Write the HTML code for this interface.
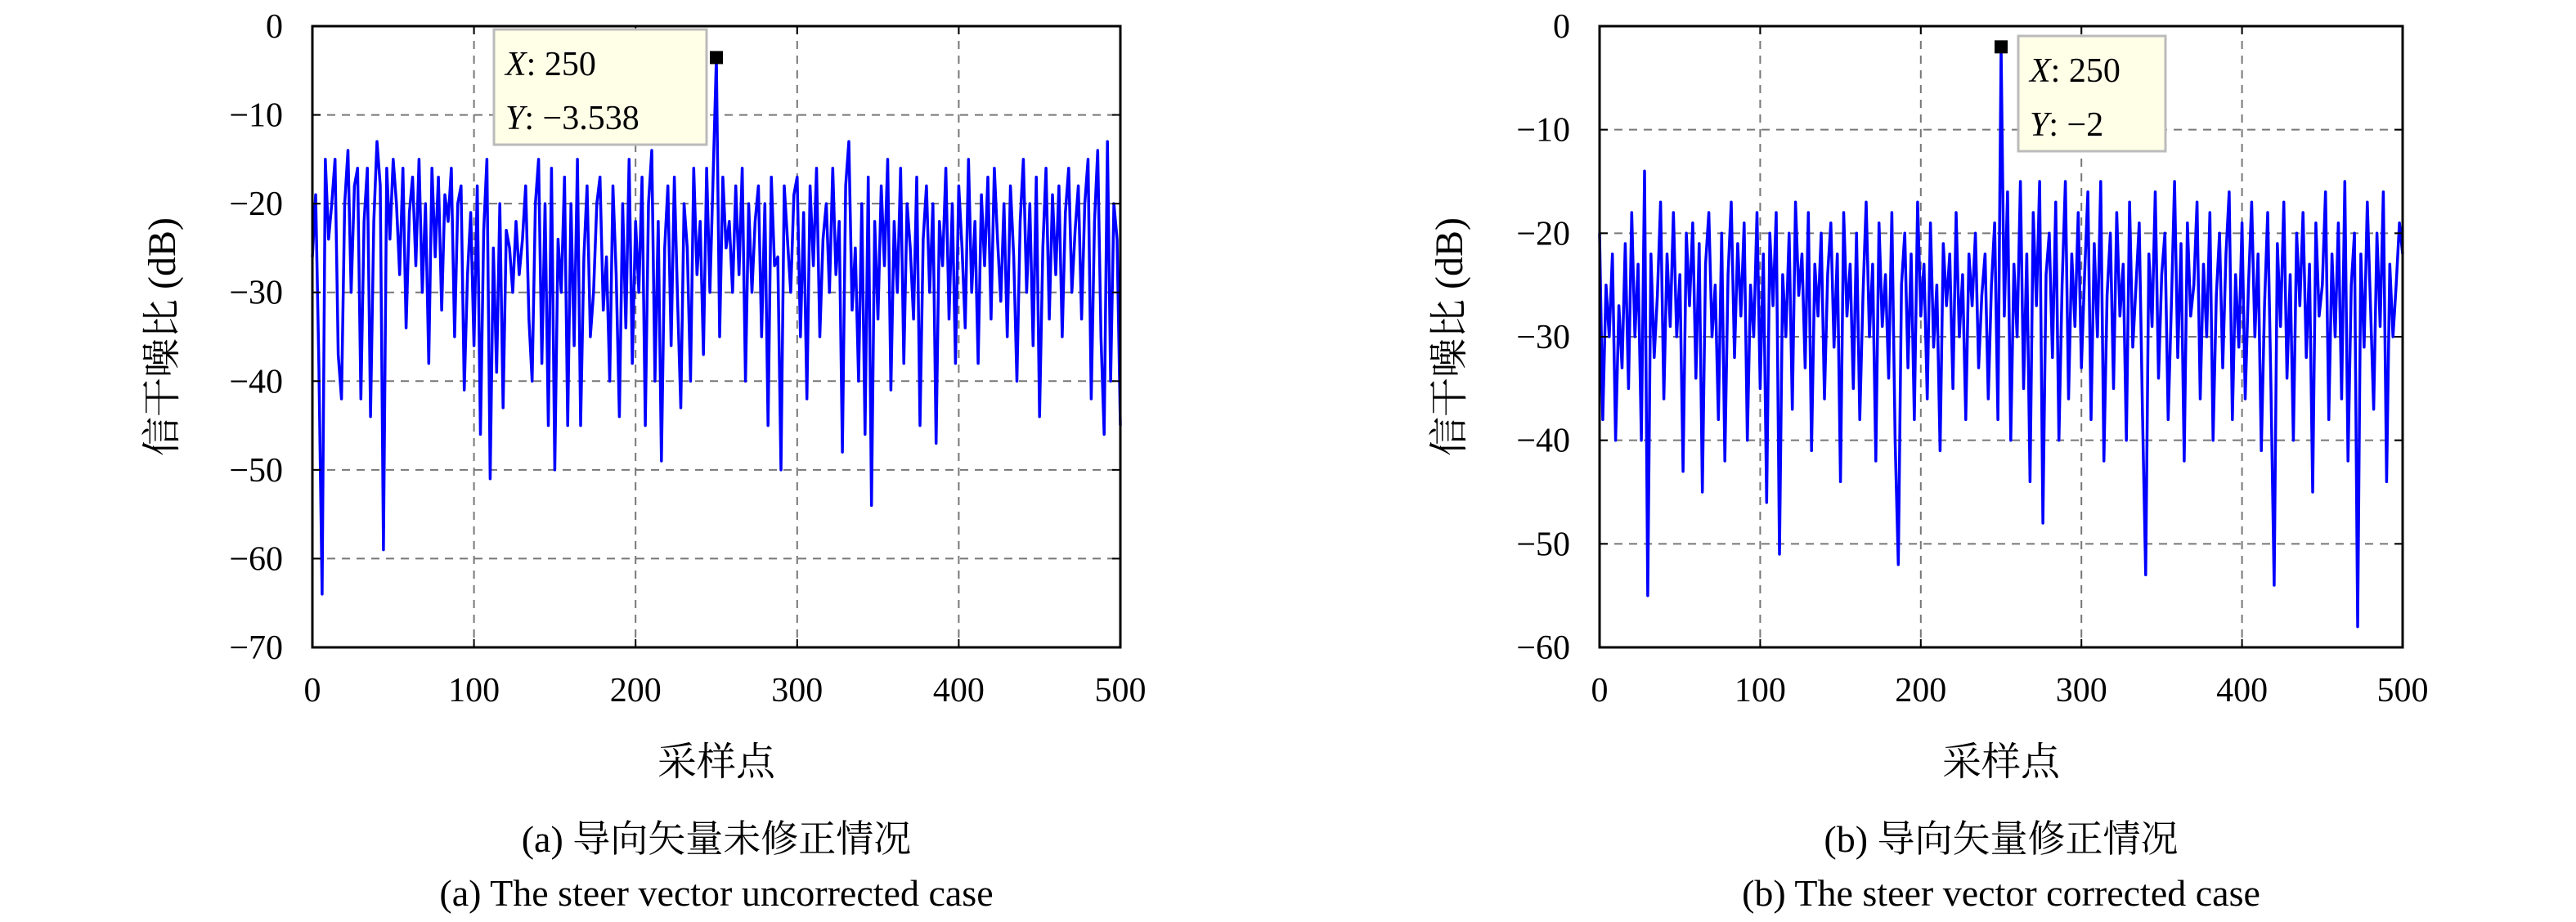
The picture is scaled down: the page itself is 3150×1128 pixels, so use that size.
<!DOCTYPE html>
<html><head><meta charset="utf-8"><style>
body{margin:0;background:#fff;}
svg{display:block;font-family:"Liberation Serif","Noto Serif CJK SC",serif;}
</style></head><body>
<svg id="fig" width="3150" height="1128" viewBox="0 0 3150 1128"></svg>
<script>
const xTicks=[0,100,200,300,400,500];
const yTicksA=[0,-10,-20,-30,-40,-50,-60,-70];
const yTicksB=[0,-10,-20,-30,-40,-50,-60];
const seriesA=[-26,-19,-38,-64,-15,-24,-20,-15,-37,-42,
-20,-14,-30,-18,-16,-42,-22,-16,-44,-22,
-13,-18,-59,-16,-24,-15,-20,-28,-16,-34,
-21,-17,-27,-15,-30,-20,-38,-16,-26,-17,
-32,-19,-22,-16,-35,-20,-18,-41,-28,-21,
-36,-18,-46,-23,-15,-51,-25,-39,-20,-43,
-23,-25,-30,-22,-28,-24,-18,-33,-40,-20,
-15,-38,-20,-45,-16,-50,-24,-30,-17,-45,
-20,-36,-15,-45,-26,-18,-35,-30,-20,-17,
-32,-26,-40,-18,-28,-44,-20,-34,-15,-38,
-22,-30,-17,-45,-20,-14,-40,-22,-49,-25,
-18,-36,-17,-31,-43,-20,-25,-40,-16,-28,
-22,-37,-16,-30,-17,-3.538,-35,-17,-25,-22,
-30,-18,-28,-16,-40,-20,-30,-22,-18,-35,
-20,-45,-17,-27,-26,-50,-18,-24,-30,-19,
-17,-35,-21,-42,-18,-27,-16,-35,-24,-20,
-30,-16,-28,-22,-48,-18,-13,-32,-25,-40,
-20,-46,-17,-54,-22,-33,-18,-27,-15,-41,
-22,-30,-16,-38,-20,-25,-33,-17,-45,-24,
-18,-30,-20,-47,-22,-27,-16,-33,-20,-38,
-18,-25,-34,-15,-30,-22,-38,-19,-27,-17,
-33,-16,-24,-31,-20,-35,-18,-26,-40,-22,
-15,-30,-20,-36,-17,-44,-25,-16,-33,-19,
-28,-18,-35,-21,-16,-30,-23,-18,-33,-20,
-15,-42,-22,-14,-35,-46,-13,-40,-20,-24,
-45];
const seriesB=[-20,-38,-25,-30,-22,-40,-27,-33,-21,-35,
-18,-30,-23,-40,-14,-55,-22,-32,-26,-17,
-36,-22,-29,-18,-30,-24,-43,-20,-27,-19,
-34,-21,-45,-23,-18,-30,-25,-38,-20,-42,
-24,-17,-32,-21,-28,-19,-40,-25,-30,-18,
-35,-22,-46,-20,-27,-18,-51,-24,-30,-20,
-37,-17,-26,-22,-33,-18,-41,-23,-28,-20,
-36,-24,-19,-31,-22,-44,-18,-28,-23,-35,
-20,-38,-26,-17,-30,-23,-42,-19,-29,-24,
-34,-18,-40,-52,-25,-20,-33,-22,-38,-17,
-28,-23,-36,-19,-31,-25,-41,-21,-27,-22,
-35,-18,-30,-24,-38,-22,-27,-20,-33,-26,
-22,-36,-25,-19,-38,-2,-28,-16,-40,-23,
-30,-15,-35,-22,-44,-18,-27,-15,-48,-24,
-20,-32,-17,-40,-25,-15,-36,-22,-29,-18,
-33,-24,-16,-38,-21,-30,-15,-42,-26,-20,
-35,-18,-28,-23,-40,-17,-31,-25,-19,-37,
-53,-22,-29,-16,-34,-24,-20,-38,-27,-15,
-32,-21,-42,-19,-28,-25,-17,-36,-23,-30,
-18,-40,-26,-20,-33,-22,-16,-38,-24,-31,
-19,-36,-25,-17,-30,-22,-41,-27,-18,-35,
-54,-21,-29,-17,-34,-24,-40,-20,-27,-18,
-32,-23,-45,-19,-28,-25,-16,-38,-22,-30,
-19,-36,-15,-42,-25,-20,-58,-22,-31,-17,
-27,-37,-20,-29,-16,-44,-23,-30,-25,-19,
-22];
const peakA={x:250,y:-3.538}, peakB={x:250,y:-2};

const NS='http://www.w3.org/2000/svg';
const svg=document.getElementById('fig');
function mk(tag,at,parent){const e=document.createElementNS(NS,tag);for(const k in at)e.setAttribute(k,at[k]);(parent||svg).appendChild(e);return e;}

function panel(id,L,R,T,B,yMin,yTicks,data,peak,tip,caps){
  const g=mk('g',{});
  
  
  const sx=v=>L+(v-0)/500*(R-L);
  const sy=v=>T+(0-v)/(0-yMin)*(B-T);
  xTicks.forEach(t=>{if(t>0&&t<500){const l=mk('line',{x1:sx(t),x2:sx(t),y1:T,y2:B,stroke:'#777','stroke-width':2,'stroke-dasharray':'10,8'},g);
    
    }});
  yTicks.forEach(t=>{if(t<0&&t>yMin){const l=mk('line',{x1:L,x2:R,y1:sy(t),y2:sy(t),stroke:'#777','stroke-width':2,'stroke-dasharray':'10,8'},g);
    
    }});
  const pts=data.map((v,i)=>sx(i*500/(data.length-1)).toFixed(1)+','+sy(v).toFixed(1)).join(' ');
  const pl=mk('polyline',{points:pts,fill:'none',stroke:'#0000ff','stroke-width':3.5,'stroke-linejoin':'round'},g);
  
  
  const box=mk('rect',{x:L,y:T,width:R-L,height:B-T,fill:'none',stroke:'#000','stroke-width':3},g);
  
  
  xTicks.forEach(t=>{
    mk('line',{x1:sx(t),x2:sx(t),y1:B,y2:B-10,stroke:'#000','stroke-width':2},g);
    mk('line',{x1:sx(t),x2:sx(t),y1:T,y2:T+10,stroke:'#000','stroke-width':2},g);
    const tx=mk('text',{x:sx(t),y:B+66,'font-size':42,'text-anchor':'middle'},g);tx.textContent=t;
    
    
  });
  yTicks.forEach(t=>{
    mk('line',{x1:L,x2:L+10,y1:sy(t),y2:sy(t),stroke:'#000','stroke-width':2},g);
    mk('line',{x1:R,x2:R-10,y1:sy(t),y2:sy(t),stroke:'#000','stroke-width':2},g);
    const tx=mk('text',{x:L-36,y:sy(t)+14,'font-size':42,'text-anchor':'end'},g);tx.textContent=t===0?'0':'\u2212'+Math.abs(t);
    
    
  });
  const m=mk('rect',{x:sx(peak.x)-8,y:sy(peak.y)-8,width:16,height:16,fill:'#000'},g);
  
  
  const tb=mk('g',{},g);
  
  
  mk('rect',{x:tip[0],y:tip[1],width:tip[2],height:141,fill:'#ffffe8',stroke:'#bbb','stroke-width':3},tb);
  const t1=mk('text',{x:tip[0]+14,y:tip[1]+56,'font-size':42},tb);
  t1.innerHTML='<tspan font-style="italic">X</tspan>: '+peak.x;
  const t2=mk('text',{x:tip[0]+14,y:tip[1]+122,'font-size':42},tb);
  t2.innerHTML='<tspan font-style="italic">Y</tspan>: \u2212'+Math.abs(peak.y);
  const xl=mk('text',{x:(L+R)/2,y:948,'font-size':48,'text-anchor':'middle'},g);xl.textContent='采样点';
  
  
  const cy=(T+B)/2;
  const yl=mk('text',{x:0,y:0,'font-size':48,'text-anchor':'middle',transform:`translate(${L-168},${cy}) rotate(-90)`},g);yl.textContent='信干噪比 (dB)';
  
  
  const c1=mk('text',{x:(L+R)/2,y:1042,'font-size':46,'text-anchor':'middle'},g);c1.textContent=caps[0];
  
  
  const c2=mk('text',{x:(L+R)/2,y:1108,'font-size':46,'text-anchor':'middle'},g);c2.textContent=caps[1];
  
  
}
panel('left',382,1370,32,792,-70,yTicksA,seriesA,peakA,[604,36,260],['(a) 导向矢量未修正情况','(a) The steer vector uncorrected case']);
panel('right',1956,2938,32,792,-60,yTicksB,seriesB,peakB,[2468,44,180],['(b) 导向矢量修正情况','(b) The steer vector corrected case']);
</script>
</body></html>
